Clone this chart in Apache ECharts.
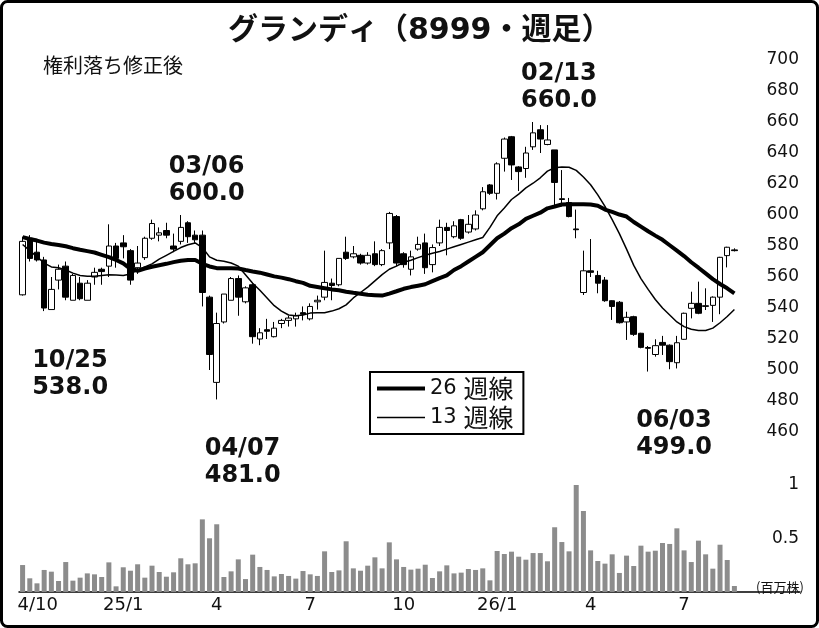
<!DOCTYPE html>
<html><head><meta charset="utf-8">
<script src="https://cdn.jsdelivr.net/npm/echarts@6/dist/echarts.min.js"></script>
<style>html,body{margin:0;padding:0;background:#fff}#c{width:819px;height:628px}</style>
</head><body><div id="c"></div>
<script>
// Weekly categories (week start)
const categories = [
'2024-09-30','2024-10-07','2024-10-14','2024-10-21','2024-10-28','2024-11-04','2024-11-11','2024-11-18','2024-11-25','2024-12-02',
'2024-12-09','2024-12-16','2024-12-23','2024-12-30','2025-01-06','2025-01-13','2025-01-20','2025-01-27','2025-02-03','2025-02-10',
'2025-02-17','2025-02-24','2025-03-03','2025-03-10','2025-03-17','2025-03-24','2025-03-31','2025-04-07','2025-04-14','2025-04-21',
'2025-04-28','2025-05-05','2025-05-12','2025-05-19','2025-05-26','2025-06-02','2025-06-09','2025-06-16','2025-06-23','2025-06-30',
'2025-07-07','2025-07-14','2025-07-21','2025-07-28','2025-08-04','2025-08-11','2025-08-18','2025-08-25','2025-09-01','2025-09-08',
'2025-09-15','2025-09-22','2025-09-29','2025-10-06','2025-10-13','2025-10-20','2025-10-27','2025-11-03','2025-11-10','2025-11-17',
'2025-11-24','2025-12-01','2025-12-08','2025-12-15','2025-12-22','2025-12-29','2026-01-05','2026-01-12','2026-01-19','2026-01-26',
'2026-02-02','2026-02-09','2026-02-16','2026-02-23','2026-03-02','2026-03-09','2026-03-16','2026-03-23','2026-03-30','2026-04-06',
'2026-04-13','2026-04-20','2026-04-27','2026-05-04','2026-05-11','2026-05-18','2026-05-25','2026-06-01','2026-06-08','2026-06-15',
'2026-06-22','2026-06-29','2026-07-06','2026-07-13','2026-07-20','2026-07-27','2026-08-03','2026-08-10','2026-08-17','2026-08-24'];

// [open, close, low, high]
const candles = [
[548.5,583,548,586],[585,572,570,587],[576,571,570,583],[571,540,538,573],[539,552,539,560],
[558,565,552,568],[567,547,545,570],[545,561,545,562],[556,546,545,560],[545,556,545,558],
[560,563,555,566],[565,563.5,555,566],[567,580,560,594],[580,572,566,582],[582,579.5,572,587],
[577,558,555,578],[566,569,562,580],[572.5,585,571,586],[585,594.5,584,597],[587,588.5,583,592],
[590,587,585,595],[580,578,576,588],[583,592,581,600],[595,586,582,596],[587,584,582,590],
[587,550,541,590],[547,510,500,548],[492,530,481,537],[531,549,530,549],[545,559,545,560],
[559,547,535,561],[544,553,543,554],[555,521.5,517,556],[520,524,516,527],[526,525,520,533],
[521.5,527,521,531],[530,532,527,533],[532,533.5,528,535],[533,535,528,537],[537,536,532,541],
[533,541,532,543],[544,545,539,548],[547,556.5,545,577],[556,554.5,545,559],[555,572,554,572],
[576,572,571,586],[573,575,572,580],[574,569,568,575],[569,574,568,576],[575,568,567,583],
[568,577,567,578],[582,601,578,602],[599,569,567,600],[575,568,566,576],[565,573,561,577],
[578,581,577,586],[582,566,562,588],[568,579,563,581],[582,592,580,597],[592,590,574,595],
[586,593,585,596],[597,585,584,597.5],[589,594,588,600],[591,600,590,603],[604,615,603,618],
[619.4,614,613,620],[614,633,610,634],[636.6,649,628,650],[650.5,632.3,622.6,651],[631,628,615.5,631.5],
[630,640,624,644],[644,653,642,660],[655,649,640,658],[645.5,648.4,645,658],[642,621,605.5,642],
[610.5,610,605.5,629],[608,599,598.5,611],[591,590.5,585,603.5],[550,564,548.4,577],[564,563,560,584.5],
[561,556,549.5,564],[558,544.7,544,560],[544.7,541,532.3,545],[543.7,530.5,530,544.5],[531,534,519.4,537.6],
[534.4,523,522,535],[523.7,514.6,514,524],[514.5,514,499,515.5],[510,515.7,508.6,519.8],[517.8,516,509.7,522],
[516,505.4,500.5,516.5],[504.7,517.6,501,522],[519.8,536.6,519.5,537],[539.8,543,533.3,550.5],[543,536.6,536,557],
[541,541.5,538.7,552.7],[541.7,547,531,547.5],[547,572.7,536,573],[573.8,579.2,566.2,579.5],[577.5,577,576.5,578.5]];

const ma26 = [
585.7,584.5,583.5,582.2,581.3,580.7,579.8,578.6,577.6,576.7,
575.8,574.3,572.8,571,568.8,565.3,564,565.5,566.6,567.6,
568.5,569.6,570.5,571,571,568.5,566.8,565.7,565.6,565.6,
565.5,564.5,563.6,562.8,561.6,560.4,559.6,558.6,557.3,556.2,
554.3,553.6,552.8,552,551.5,550.5,549.8,549.2,548.5,548.3,
548,549.3,550.8,552.4,553.5,554.4,555.3,557.3,559.3,561,
564.5,567,570,573,576,580.5,585,588,591.5,594,
597.5,599.5,601.5,604.3,605.5,606.8,607,607,607,606.8,
606,603.5,602,600.3,599,595.5,592.5,589.5,586.7,584,
580.5,577,573.5,569.5,566,562.3,558.6,555.5,552.7,549.5];

const ma13 = [
581,577,573,569,566.5,566,564.5,562.5,561,560.5,
560.5,561,561.5,561.3,561,562,564.5,566.5,568.5,571.5,
574,576.5,579,580.8,582,579,573,570.8,570.2,569,
567,561.5,556,551.5,546.5,541.5,538,535.5,535,535.5,
536.7,537,537,538,539.5,542,546.5,550,553.5,557.5,
561.5,565,567,569.5,570.8,572.5,574,575.3,576.5,578,
579.5,581,582.5,584,585.5,592,599.5,604.5,610,613.5,
617.5,620.5,624,628.3,630.5,631,630.8,628.8,624.5,619.5,
613,605.5,597,588,578,567.5,559,552,545.5,540,
535.5,531,528,526.3,525.5,525.5,527,530.5,534.5,539];

// volume, million shares
const volume = [
0.252,0.128,0.081,0.206,0.190,0.103,0.280,0.106,0.134,0.174,
0.165,0.140,0.277,0.053,0.231,0.199,0.259,0.134,0.246,0.187,
0.143,0.184,0.315,0.259,0.268,0.679,0.502,0.633,0.140,0.193,
0.305,0.121,0.349,0.234,0.206,0.146,0.168,0.150,0.125,0.196,
0.165,0.150,0.380,0.187,0.202,0.474,0.221,0.199,0.246,0.324,
0.221,0.464,0.305,0.234,0.209,0.218,0.255,0.131,0.193,0.249,
0.174,0.181,0.215,0.206,0.221,0.109,0.383,0.355,0.377,0.330,
0.302,0.364,0.364,0.287,0.605,0.467,0.380,1.01,0.757,0.389,
0.290,0.265,0.352,0.178,0.340,0.243,0.433,0.377,0.386,0.458,
0.449,0.595,0.389,0.280,0.480,0.352,0.218,0.442,0.299,0.056];

const tickIndex = [1,14,27,40,53,66,79,92];
const tickText = ['4/10','25/1','4','7','10','26/1','4','7'];

// high / low annotations: index, value, date, kind
const annoIndex = [3,22,27,71,87];
const annoValue = [538.0,600.0,481.0,660.0,499.0];
const annoDate = ['10/25','03/06','04/07','02/13','06/03'];
const annoKind = ['low','high','low','high','low'];

const FONT = '"DejaVu Sans","Noto Sans CJK JP",sans-serif';
const JP = '"Noto Sans CJK JP","DejaVu Sans",sans-serif';

const chart = echarts.init(document.getElementById('c'), null, {renderer:'canvas'});
const candleData = candles.map(r => [r[0], r[1], r[2], r[3]]);
const annoData = annoIndex.map((ix, k) => ({
  name: annoDate[k] + '\n' + annoValue[k].toFixed(1),
  coord: [ix, annoValue[k]],
  label: { offset: [-12, annoKind[k] === 'high' ? -35 : 63] }
}));

chart.setOption({
  animation: false,
  backgroundColor: '#fff',
  title: [
    { text: 'グランディ（8999・週足）', left: 223, top: 11,
      textStyle: { fontFamily: FONT, fontWeight: 'bold', fontSize: 30, color: '#111' } },
    { text: '権利落ち修正後', left: 38, top: 50,
      textStyle: { fontFamily: JP, fontWeight: 'normal', fontSize: 20, color: '#111' } },
    { text: '(百万株)', left: 751, top: 576,
      textStyle: { fontFamily: JP, fontWeight: 'normal', fontSize: 13, color: '#111' } }
  ],
  legend: {
    left: 370, top: 372, orient: 'vertical',
    itemWidth: 48, itemHeight: 14, itemGap: 4,
    padding: [4, 10, 4, 7],
    borderColor: '#000', borderWidth: 2, backgroundColor: '#fff',
    formatter: (name) => {
      const parts = name.split(' ');
      return '{d|' + parts[0] + ' }{k|' + parts[1] + '}';
    },
    textStyle: {
      fontFamily: FONT, fontSize: 21, color: '#111', lineHeight: 22,
      rich: {
        d: { fontFamily: FONT, fontSize: 21, color: '#111', lineHeight: 22 },
        k: { fontFamily: JP, fontSize: 25, color: '#111', lineHeight: 22 }
      }
    },
    data: [
      { name: '26 週線', icon: 'path://M0,0H48V4H0Z' },
      { name: '13 週線', icon: 'path://M0,0H48V1.5H0Z' }
    ]
  },
  graphic: [{
    type: 'rect', silent: true, z: 100,
    shape: { x: 1.5, y: 1.5, width: 816, height: 625, r: 6 },
    style: { fill: 'none', stroke: '#000', lineWidth: 3 }
  }],
  grid: [
    { left: 19, width: 719, top: 60, height: 372 },
    { left: 19, width: 719, top: 485, height: 107 },
    { left: 19, width: 781, top: 485, height: 107 }
  ],
  xAxis: [
    { type: 'category', gridIndex: 0, data: categories, show: false, boundaryGap: true },
    { type: 'category', gridIndex: 1, data: categories, boundaryGap: true,
      axisLine: { show: false }, axisTick: { show: false },
      axisLabel: {
        interval: (idx) => tickIndex.indexOf(idx) >= 0,
        formatter: (v, idx) => {
          const k = tickIndex.indexOf(idx);
          if (k < 0) return '';
          return k === 0 ? '{f|' + tickText[k] + '}' : tickText[k];
        },
        rich: { f: { fontFamily: FONT, fontSize: 18, color: '#111', padding: [0, 0, 0, 16] } },
        margin: 4, fontFamily: FONT, fontSize: 18, color: '#111'
      } },
    { type: 'value', gridIndex: 2, min: 0, max: 1,
      axisLine: { show: true, onZero: false, lineStyle: { color: '#000', width: 1.5 } },
      axisTick: { show: false }, axisLabel: { show: false }, splitLine: { show: false } }
  ],
  yAxis: [
    { type: 'value', gridIndex: 0, position: 'right', min: 460, max: 700, interval: 20,
      axisLine: { show: false }, axisTick: { show: false }, splitLine: { show: false },
      axisLabel: { align: 'right', margin: 61, fontFamily: FONT, fontSize: 17, color: '#111' } },
    { type: 'value', gridIndex: 1, position: 'right', min: 0, max: 1, interval: 0.5,
      axisLine: { show: false }, axisTick: { show: false }, splitLine: { show: false },
      axisLabel: { align: 'right', margin: 61, showMinLabel: false, fontFamily: FONT, fontSize: 17, color: '#111' } },
    { type: 'value', gridIndex: 2, show: false, min: 0, max: 1 }
  ],
  series: [
    { type: 'candlestick', name: 'price', xAxisIndex: 0, yAxisIndex: 0, data: candleData,
      barWidth: 6, z: 2,
      itemStyle: { color: '#fff', color0: '#000', borderColor: '#000', borderColor0: '#000', borderWidth: 1 },
      markPoint: {
        symbol: 'circle', symbolSize: 0, silent: true,
        label: { show: true, position: 'inside', align: 'left', verticalAlign: 'middle',
          fontFamily: FONT, fontWeight: 'bold', fontSize: 24, lineHeight: 27, color: '#111',
          formatter: (p) => p.name },
        data: annoData
      } },
    { type: 'line', name: '26 週線', xAxisIndex: 0, yAxisIndex: 0, data: ma26,
      symbol: 'none', z: 4, lineStyle: { color: '#000', width: 4 }, itemStyle: { color: '#000' } },
    { type: 'line', name: '13 週線', xAxisIndex: 0, yAxisIndex: 0, data: ma13,
      symbol: 'none', z: 4, lineStyle: { color: '#000', width: 1.5 }, itemStyle: { color: '#000' } },
    { type: 'bar', name: 'vol', xAxisIndex: 1, yAxisIndex: 1, data: volume,
      barWidth: 5, itemStyle: { color: '#8c8c8c' } }
  ]
});
</script></body></html>
